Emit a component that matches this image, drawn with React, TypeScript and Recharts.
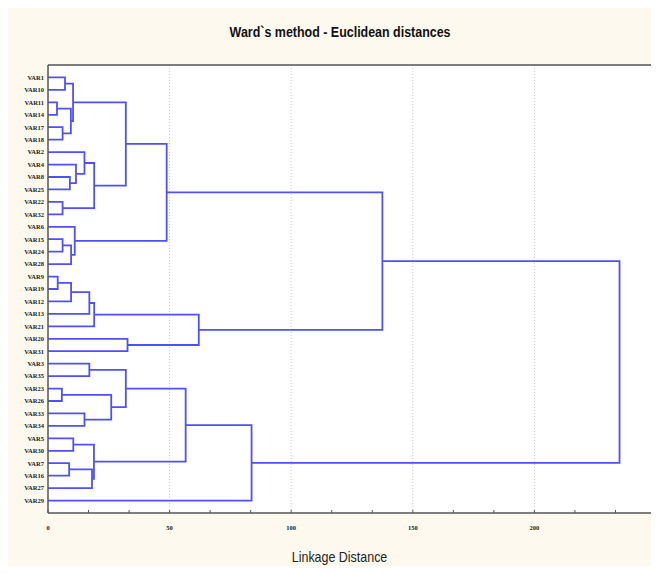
import React from 'react';
import { LineChart, Line, XAxis, YAxis, CartesianGrid, ReferenceLine } from 'recharts';

// leaf order, top to bottom
const leaves = [
  'VAR1', 'VAR10', 'VAR11', 'VAR14', 'VAR17', 'VAR18', 'VAR2', 'VAR4', 'VAR8', 'VAR25', 'VAR22', 'VAR32',
  'VAR6', 'VAR15', 'VAR24', 'VAR28', 'VAR9', 'VAR19', 'VAR12', 'VAR13', 'VAR21', 'VAR20', 'VAR31',
  'VAR3', 'VAR35', 'VAR23', 'VAR26', 'VAR33', 'VAR34', 'VAR5', 'VAR30', 'VAR7', 'VAR16', 'VAR27', 'VAR29',
];

// [left, right, linkage distance]; '#n' = result of the n-th merge
const merges: [string, string, number][] = [
  ['VAR1', 'VAR10', 7],
  ['VAR11', 'VAR14', 3.7],
  ['VAR17', 'VAR18', 6],
  ['#1', '#2', 9.4],
  ['#0', '#3', 10.3],
  ['VAR8', 'VAR25', 9],
  ['VAR4', '#5', 11.5],
  ['VAR2', '#6', 15],
  ['VAR22', 'VAR32', 6],
  ['#7', '#8', 19],
  ['#4', '#9', 32],
  ['VAR15', 'VAR24', 6],
  ['#11', 'VAR28', 9.5],
  ['VAR6', '#12', 11],
  ['#10', '#13', 48.8],
  ['VAR9', 'VAR19', 4],
  ['#15', 'VAR12', 9.5],
  ['#16', 'VAR13', 17],
  ['#17', 'VAR21', 19],
  ['VAR20', 'VAR31', 32.7],
  ['#18', '#19', 62],
  ['#14', '#20', 137.5],
  ['VAR3', 'VAR35', 17],
  ['VAR23', 'VAR26', 5.7],
  ['VAR33', 'VAR34', 15],
  ['#23', '#24', 26],
  ['#22', '#25', 32],
  ['VAR5', 'VAR30', 10.4],
  ['VAR7', 'VAR16', 8.7],
  ['#28', 'VAR27', 18.1],
  ['#27', '#29', 18.9],
  ['#26', '#30', 56.6],
  ['#31', 'VAR29', 83.7],
  ['#21', '#32', 235],
];

const majorTicks = [0, 50, 100, 150, 200, 250];
const gridLines = [50, 100, 150, 200];
// two minor ticks between every pair of labelled ticks
const xTicks = majorTicks.slice(0, -1).flatMap((t) => [t, t + 50 / 3, t + 100 / 3]).concat([250]);
const leafTicks = leaves.map((_, i) => i);

const LINE = '#5050f8';
const AXIS = '#555';
const NARROW = "'Liberation Sans Narrow', 'Arial Narrow', 'Liberation Sans', sans-serif";

function buildLinks() {
  const pos: Record<string, { h: number; y: number }> = {};
  leaves.forEach((name, i) => {
    pos[name] = { h: 0, y: i };
  });
  return merges.map(([a, b, h], i) => {
    const pa = pos[a];
    const pb = pos[b];
    pos['#' + i] = { h, y: (pa.y + pb.y) / 2 };
    return [
      { x: pa.h, y: pa.y },
      { x: h, y: pa.y },
      { x: h, y: pb.y },
      { x: pb.h, y: pb.y },
    ];
  });
}

const isMajor = (v: number) => Math.abs(v / 50 - Math.round(v / 50)) < 1e-6;

// eslint-disable-next-line @typescript-eslint/no-explicit-any
const BottomTick = (props: any) => {
  const { x, y, payload } = props;
  return (
    <g>
      <line x1={x} x2={x} y1={y} y2={y - 3} stroke={AXIS} />
      {isMajor(payload.value) && (
        <text x={x} y={y + 17} textAnchor="middle" fontSize={6.5} fontWeight="bold"
          fontFamily="'Liberation Serif', serif" fill="#222">
          {Math.round(payload.value)}
        </text>
      )}
    </g>
  );
};

// eslint-disable-next-line @typescript-eslint/no-explicit-any
const TopTick = (props: any) => {
  const { x, y } = props;
  return <line x1={x} x2={x} y1={y} y2={y + 3} stroke={AXIS} />;
};

// eslint-disable-next-line @typescript-eslint/no-explicit-any
const RightTick = (props: any) => {
  const { x, y } = props;
  return <line x1={x} x2={x - 3} y1={y} y2={y} stroke={AXIS} />;
};

export default function App() {
  const links = buildLinks();
  return (
    <div style={{ position: 'relative', margin: -8, width: 659, height: 574, background: '#fff', overflow: 'hidden' }}>
      <div style={{ position: 'absolute', left: 5, top: 8, right: 0, bottom: 0, background: '#fdf9ee' }} />
      <div style={{ position: 'absolute', left: 0, top: 22, width: 680, textAlign: 'center', lineHeight: '20px' }}>
        <span style={{
          display: 'inline-block', transform: 'scaleX(0.83)', fontFamily: NARROW,
          fontWeight: 'bold', fontSize: 15, color: '#111',
        }}>
          Ward`s method - Euclidean distances
        </span>
      </div>
      <div style={{ position: 'absolute', left: 0, top: 0 }}>
        <LineChart width={659} height={574} margin={{ top: 60, right: 0, bottom: 31, left: 0 }}>
          <CartesianGrid horizontal={false} vertical={false} fill="#fff" />
          <XAxis type="number" dataKey="x" domain={[0, 250]} ticks={xTicks} interval={0} allowDataOverflow
            tickLine={false} tickSize={0} tickMargin={0} tick={<BottomTick />} height={30}
            axisLine={{ stroke: AXIS, strokeWidth: 1.5 }} />
          <XAxis xAxisId="top" orientation="top" type="number" domain={[0, 250]} ticks={majorTicks} interval={0}
            allowDataOverflow tickLine={false} tickSize={0} tickMargin={0} tick={<TopTick />} height={5}
            axisLine={{ stroke: AXIS, strokeWidth: 1.5 }} />
          <YAxis type="number" dataKey="y" domain={[-1, 35]} reversed ticks={leafTicks} interval={0} allowDataOverflow
            tickFormatter={(i: number) => leaves[i] ?? ''} width={48} tickLine={false} tickSize={0} tickMargin={4}
            tick={{ fontSize: 6.5, fontWeight: 'bold', fill: '#222', fontFamily: "'Liberation Serif', serif" }}
            axisLine={{ stroke: AXIS, strokeWidth: 1.5 }} />
          <YAxis yAxisId="right" orientation="right" type="number" domain={[-1, 35]} reversed ticks={leafTicks}
            interval={0} allowDataOverflow tickLine={false} tickSize={0} tickMargin={0} tick={<RightTick />} width={3}
            axisLine={{ stroke: AXIS, strokeWidth: 1.5 }} />
          {gridLines.map((v) => (
            <ReferenceLine key={v} x={v} stroke="#c8c8c8" strokeDasharray="1 2" />
          ))}
          {links.map((pts, i) => (
            <Line key={i} data={pts} dataKey="y" type="linear" stroke={LINE} strokeWidth={1.8}
              dot={false} activeDot={false} isAnimationActive={false} />
          ))}
        </LineChart>
      </div>
      <div style={{ position: 'absolute', left: 0, top: 548, width: 680, textAlign: 'center', lineHeight: '18px' }}>
        <span style={{ display: 'inline-block', transform: 'scaleX(0.83)', fontFamily: NARROW, fontSize: 15, color: '#222' }}>
          Linkage Distance
        </span>
      </div>
    </div>
  );
}
